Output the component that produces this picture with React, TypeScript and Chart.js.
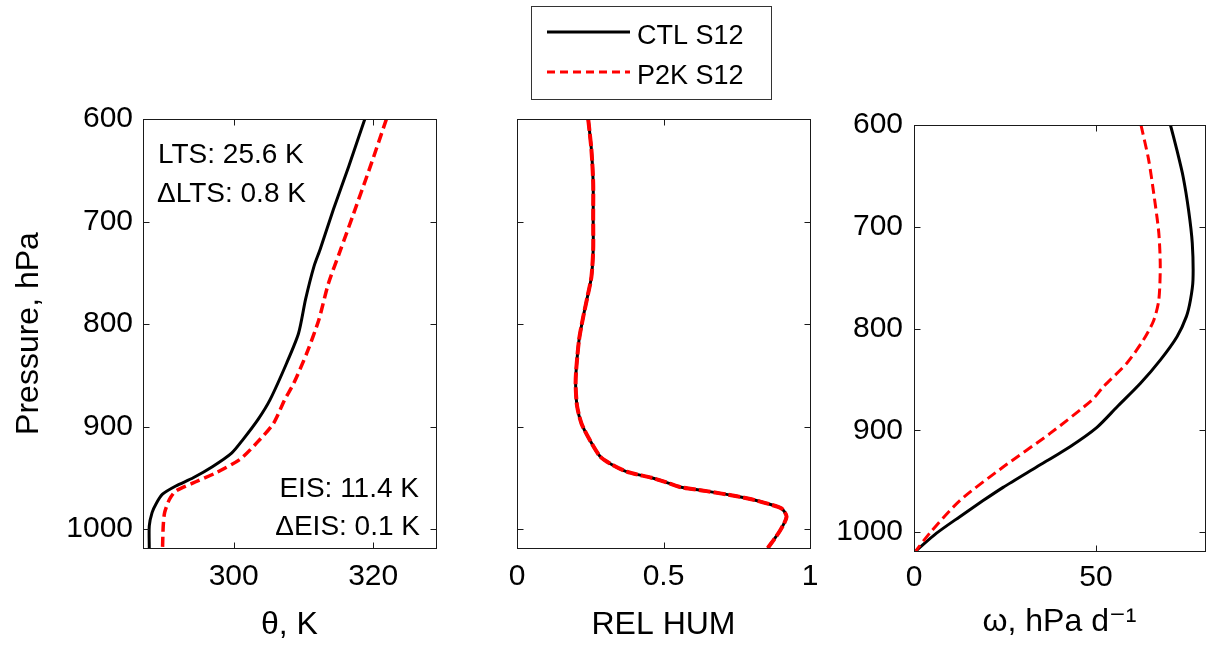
import React, { useEffect, useRef } from 'react';
import { Chart, registerables } from 'chart.js';

Chart.register(...registerables);

const W = 1211;
const H = 652;
const FONT = "'Liberation Sans', Arial, Helvetica, 'DejaVu Sans', sans-serif";

// ---------- data ----------
const seriesLabels = ['CTL S12', 'P2K S12'];

const pressureTicks = [600, 700, 800, 900, 1000];
const pressureMin = 600;
const pressureMax = 1018.5;

// Panel 1: potential temperature (K)
const thetaCtlP = [600, 646, 688, 727, 744, 776, 809, 838, 874, 893, 913, 926, 939, 950, 958, 966, 975, 984, 997, 1018.5];
const thetaCtl = [318.8, 316.5, 314.3, 312.4, 311.5, 310.3, 309.3, 307.6, 305.2, 303.5, 301.3, 299.7, 297.0, 294.2, 291.7, 289.8, 288.9, 288.3, 287.9, 287.9];
const thetaP2kP = [600, 646, 692, 728, 760, 796, 828, 858, 874, 897, 916, 932, 945, 955, 963, 971, 984, 997, 1018.5];
const thetaP2k = [321.9, 319.6, 317.2, 315.3, 313.6, 312.2, 310.5, 308.6, 307.3, 305.7, 303.3, 300.9, 297.5, 294.2, 291.7, 290.8, 290.1, 289.9, 289.8];
const thetaTicks = [300, 320];

// Panel 2: relative humidity
const rhP = [600, 630, 662, 695, 728, 754, 770, 793, 815, 841, 858, 880, 897, 913, 929, 936, 944, 950, 954, 959, 963, 968, 971, 975, 980, 988, 1002, 1018.5];
const rhCtl = [0.243, 0.254, 0.26, 0.26, 0.26, 0.254, 0.243, 0.226, 0.212, 0.203, 0.2, 0.205, 0.22, 0.248, 0.283, 0.317, 0.374, 0.459, 0.505, 0.556, 0.647, 0.75, 0.8, 0.852, 0.903, 0.92, 0.897, 0.856];
const rhP2k = [0.243, 0.254, 0.26, 0.26, 0.26, 0.254, 0.243, 0.226, 0.212, 0.203, 0.2, 0.205, 0.22, 0.248, 0.283, 0.317, 0.374, 0.459, 0.505, 0.556, 0.647, 0.75, 0.8, 0.852, 0.903, 0.92, 0.897, 0.856];
const rhTicks = [0, 0.5, 1];

// Panel 3: omega (hPa/day)
const omegaCtlP = [600, 625, 651, 684, 716, 752, 772, 788, 808, 831, 854, 877, 897, 916, 936, 956, 969, 985, 1001, 1018.5];
const omegaCtl = [70.5, 72.3, 74.0, 75.5, 76.5, 76.7, 76.0, 74.9, 72.3, 67.7, 62.2, 55.8, 50.3, 42.9, 33.7, 24.5, 19.0, 12.5, 6.2, 0.5];
const omegaP2kP = [600, 634, 667, 706, 739, 772, 792, 811, 834, 857, 870, 903, 936, 969, 1001, 1018.5];
const omegaP2k = [62.4, 64.5, 65.9, 67.3, 67.7, 67.3, 65.9, 63.1, 58.5, 52.1, 49.0, 37.4, 24.5, 12.6, 4.3, 0.5];
const omegaTicks = [0, 50];

const annotationsTop = ['LTS: 25.6 K', '\u0394LTS: 0.8 K'];
const annotationsBottom = ['EIS: 11.4 K', '\u0394EIS: 0.1 K'];

// ---------- helpers ----------
function pts(p: number[], v: number[]) {
  return p.map((pp, i) => ({ x: v[i], y: pp }));
}

const framePlugin = {
  id: 'frame',
  afterDraw(chart: any) {
    const { ctx, chartArea: a, scales } = chart;
    const L = Math.floor(a.left) + 0.5;
    const R = Math.floor(a.right) + 0.5;
    const T = Math.floor(a.top) + 0.5;
    const B = Math.floor(a.bottom) + 0.5;
    ctx.save();
    ctx.strokeStyle = '#1a1a1a';
    ctx.lineWidth = 1;
    ctx.strokeRect(L, T, R - L, B - T);
    const tl = 6;
    ctx.beginPath();
    for (const t of scales.x.ticks) {
      const px = Math.round(scales.x.getPixelForValue(t.value)) + 0.5;
      if (px - L < 2 || R - px < 2) continue;
      ctx.moveTo(px, T);
      ctx.lineTo(px, T + tl);
      ctx.moveTo(px, B);
      ctx.lineTo(px, B - tl);
    }
    for (const t of scales.y.ticks) {
      const py = Math.round(scales.y.getPixelForValue(t.value)) + 0.5;
      if (py - T < 2 || B - py < 2) continue;
      ctx.moveTo(L, py);
      ctx.lineTo(L + tl, py);
      ctx.moveTo(R, py);
      ctx.lineTo(R - tl, py);
    }
    ctx.stroke();
    ctx.restore();
  },
};

const annotationPlugin = {
  id: 'stabilityText',
  afterDraw(chart: any) {
    const { ctx, chartArea: a } = chart;
    ctx.save();
    ctx.fillStyle = '#000';
    ctx.font = `28px ${FONT}`;
    ctx.textBaseline = 'alphabetic';
    ctx.textAlign = 'left';
    ctx.fillText(annotationsTop[0], a.left + 15, a.top + 44);
    ctx.fillText(annotationsTop[1], a.left + 14, a.top + 83);
    ctx.textAlign = 'right';
    ctx.fillText(annotationsBottom[0], a.right - 17, a.bottom - 51);
    ctx.fillText(annotationsBottom[1], a.right - 16, a.bottom - 13);
    ctx.restore();
  },
};

const legendPlugin = {
  id: 'boxLegend',
  afterDraw(chart: any) {
    const { ctx } = chart;
    const ds = chart.data.datasets;
    const box = { x: 531.5, y: 6.5, w: 240, h: 93 };
    ctx.save();
    ctx.fillStyle = '#fff';
    ctx.fillRect(box.x, box.y, box.w, box.h);
    ctx.strokeStyle = '#333';
    ctx.lineWidth = 1;
    ctx.strokeRect(box.x, box.y, box.w, box.h);
    const rows = [32, 72];
    ds.forEach((d: any, i: number) => {
      const y = rows[i];
      ctx.beginPath();
      ctx.strokeStyle = d.borderColor;
      ctx.lineWidth = 3;
      ctx.setLineDash(d.borderDash && d.borderDash.length ? [8, 5] : []);
      ctx.moveTo(547, y);
      ctx.lineTo(630, y);
      ctx.stroke();
      ctx.setLineDash([]);
      ctx.fillStyle = '#000';
      ctx.font = `27px ${FONT}`;
      ctx.textAlign = 'left';
      ctx.textBaseline = 'middle';
      ctx.fillText(d.label, 637, y + 5);
    });
    ctx.restore();
  },
};

type Area = { left: number; right: number; top: number; bottom: number };
type PanelSpec = {
  ctlP: number[];
  ctlV: number[];
  p2kP: number[];
  p2kV: number[];
  xMin: number;
  xMax: number;
  xTicks: number[];
  xTitle: string;
  yTitle: string;
  area: Area;
  showYLabels: boolean;
  yTickPad: number;
  xTickPad: number;
  xTitlePad: number;
  redWidth: number;
  redDash: number[];
  extra: any[];
};

function buildConfig(s: PanelSpec): any {
  return {
    type: 'line',
    data: {
      datasets: [
        {
          label: seriesLabels[0],
          data: pts(s.ctlP, s.ctlV),
          borderColor: '#000000',
          borderWidth: 3,
          pointRadius: 0,
          tension: 0.25,
          fill: false,
          order: 2,
        },
        {
          label: seriesLabels[1],
          data: pts(s.p2kP, s.p2kV),
          borderColor: '#ff0000',
          borderWidth: s.redWidth,
          borderDash: s.redDash,
          pointRadius: 0,
          tension: 0.25,
          fill: false,
          order: 1,
        },
      ],
    },
    options: {
      responsive: false,
      animation: false,
      devicePixelRatio: 1,
      indexAxis: 'y',
      events: [],
      layout: { padding: { left: 0, top: s.area.top, right: W - s.area.right, bottom: 0 } },
      plugins: { legend: { display: false }, tooltip: { enabled: false }, title: { display: false } },
      scales: {
        x: {
          type: 'linear',
          position: 'bottom',
          min: s.xMin,
          max: s.xMax,
          grid: { display: false, drawTicks: false },
          border: { display: false },
          afterBuildTicks: (sc: any) => {
            sc.ticks = s.xTicks.map((v) => ({ value: v }));
          },
          afterFit: (sc: any) => {
            sc.height = H - s.area.bottom;
          },
          ticks: {
            padding: s.xTickPad,
            maxRotation: 0,
            color: '#000',
            font: { family: FONT, size: 30 },
            callback: (v: any) => String(v),
          },
          title: {
            display: true,
            text: s.xTitle,
            color: '#000',
            font: { family: FONT, size: 32 },
            padding: { top: 0, bottom: s.xTitlePad },
          },
        },
        y: {
          type: 'linear',
          position: 'left',
          reverse: true,
          min: pressureMin,
          max: pressureMax,
          grid: { display: false, drawTicks: false },
          border: { display: false },
          afterBuildTicks: (sc: any) => {
            sc.ticks = pressureTicks.map((v) => ({ value: v }));
          },
          afterFit: (sc: any) => {
            sc.width = s.area.left;
          },
          ticks: {
            display: s.showYLabels,
            padding: s.yTickPad,
            color: '#000',
            font: { family: FONT, size: 30 },
            callback: (v: any) => String(v),
          },
          title: {
            display: s.yTitle !== '',
            text: s.yTitle,
            color: '#000',
            font: { family: FONT, size: 32 },
            padding: { top: 10, bottom: 0 },
          },
        },
      },
    },
    plugins: [framePlugin, ...s.extra],
  };
}

const panels: PanelSpec[] = [
  {
    ctlP: thetaCtlP,
    ctlV: thetaCtl,
    p2kP: thetaP2kP,
    p2kV: thetaP2k,
    xMin: 287,
    xMax: 329,
    xTicks: thetaTicks,
    xTitle: '\u03b8, K',
    yTitle: 'Pressure, hPa',
    area: { left: 143, right: 436, top: 119, bottom: 548 },
    showYLabels: true,
    yTickPad: 10,
    xTickPad: 11,
    xTitlePad: 8,
    redWidth: 3.5,
    redDash: [10, 5],
    extra: [annotationPlugin],
  },
  {
    ctlP: rhP,
    ctlV: rhCtl,
    p2kP: rhP,
    p2kV: rhP2k,
    xMin: 0,
    xMax: 1,
    xTicks: rhTicks,
    xTitle: 'REL HUM',
    yTitle: '',
    area: { left: 517, right: 810, top: 119, bottom: 548 },
    showYLabels: false,
    yTickPad: 11,
    xTickPad: 11,
    xTitlePad: 8,
    redWidth: 4,
    redDash: [12, 3],
    extra: [legendPlugin],
  },
  {
    ctlP: omegaCtlP,
    ctlV: omegaCtl,
    p2kP: omegaP2kP,
    p2kV: omegaP2k,
    xMin: 0,
    xMax: 80,
    xTicks: omegaTicks,
    xTitle: '\u03c9, hPa d\u207b\u00b9',
    yTitle: '',
    area: { left: 914, right: 1205, top: 125, bottom: 551 },
    showYLabels: true,
    yTickPad: 11,
    xTickPad: 9,
    xTitlePad: 11,
    redWidth: 3,
    redDash: [10, 5],
    extra: [],
  },
];

function Panel({ spec }: { spec: PanelSpec }) {
  const ref = useRef<HTMLCanvasElement>(null);
  useEffect(() => {
    const chart = new Chart(ref.current as HTMLCanvasElement, buildConfig(spec));
    return () => chart.destroy();
  }, [spec]);
  return (
    <canvas
      ref={ref}
      width={W}
      height={H}
      style={{ position: 'absolute', left: 0, top: 0, width: W, height: H }}
    />
  );
}

export default function App() {
  return (
    <div style={{ position: 'absolute', left: 0, top: 0, width: W, height: H, background: '#fff', overflow: 'hidden' }}>
      {panels.map((p, i) => (
        <Panel key={i} spec={p} />
      ))}
    </div>
  );
}
